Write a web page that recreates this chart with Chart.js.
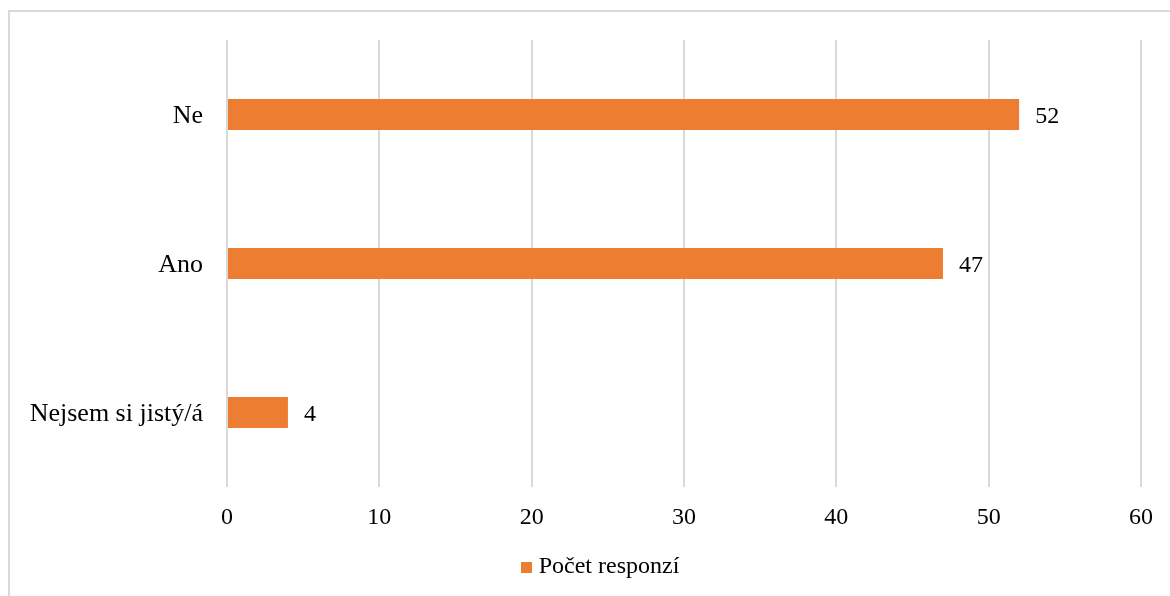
<!DOCTYPE html>
<html lang="cs">
<head>
<meta charset="utf-8">
<title>Počet responzí</title>
<script src="https://cdn.jsdelivr.net/npm/chart.js@4.4.1/dist/chart.umd.min.js"></script>
<style>
  html, body { margin: 0; padding: 0; background: #ffffff; overflow: hidden; }
  #frame {
    position: absolute; left: 8px; top: 10px; width: 1300px; height: 700px;
    border: 2px solid #d9d9d9; box-sizing: border-box;
  }
  #wrap { position: absolute; left: 0; top: 0; width: 1170px; height: 596px; }
</style>
</head>
<body>
<div id="frame"></div>
<div id="wrap"><canvas id="chart" width="1170" height="596"></canvas></div>
<script>
// Odpovědi a počty
const categories = ['Ne', 'Ano', 'Nejsem si jistý/á'];
const responses = [52, 47, 4];
const seriesName = 'Počet responzí';
const axisMin = 0;
const axisMax = 60;
const axisStep = 10;

const FONT = "'Liberation Serif', 'Times New Roman', serif";
const ORANGE = '#ED7D31';
const GRID = '#d9d9d9';

// Malý čtvereček pro legendu
const legendSwatch = document.createElement('canvas');
legendSwatch.width = 11;
legendSwatch.height = 11;
(function () {
  const c = legendSwatch.getContext('2d');
  c.fillStyle = ORANGE;
  c.fillRect(0, 0, 11, 11);
})();

// Hodnoty vypsané vpravo od sloupců
const valueLabels = {
  id: 'valueLabels',
  afterDatasetsDraw(chart) {
    const ctx = chart.ctx;
    const meta = chart.getDatasetMeta(0);
    const data = chart.data.datasets[0].data;
    ctx.save();
    ctx.font = '24px ' + FONT;
    ctx.fillStyle = '#000';
    ctx.textAlign = 'left';
    ctx.textBaseline = 'middle';
    meta.data.forEach((bar, i) => {
      ctx.fillText(String(data[i]), bar.x + 16, bar.y + 2);
    });
    ctx.restore();
  }
};

// Legenda vystředěná pod celým grafem, ne jen pod osou
const legendShift = {
  id: 'legendShift',
  afterLayout(chart) {
    const lg = chart.legend;
    if (lg) {
      lg.left = 64;
      lg.width = lg.right - lg.left;
    }
  }
};

new Chart(document.getElementById('chart'), {
  type: 'bar',
  data: {
    labels: categories,
    datasets: [{
      label: seriesName,
      data: responses,
      backgroundColor: ORANGE,
      borderWidth: 0,
      categoryPercentage: 1,
      barPercentage: 0.208
    }]
  },
  options: {
    indexAxis: 'y',
    responsive: false,
    animation: false,
    devicePixelRatio: 1,
    layout: { padding: { top: 40, right: 29, left: 0, bottom: 7 } },
    scales: {
      x: {
        min: axisMin,
        max: axisMax,
        ticks: {
          stepSize: axisStep,
          color: '#000',
          padding: 16,
          font: { family: FONT, size: 24 }
        },
        grid: { color: GRID, lineWidth: 2, drawTicks: false },
        border: { display: false },
        afterFit(scale) { scale.height = 58; }
      },
      y: {
        ticks: {
          color: '#000',
          padding: 24,
          labelOffset: 2,
          font: { family: FONT, size: 26 }
        },
        grid: { display: false, drawTicks: false },
        border: { display: false },
        afterFit(scale) { scale.width = 227; }
      }
    },
    plugins: {
      legend: {
        position: 'bottom',
        labels: {
          usePointStyle: true,
          pointStyle: legendSwatch,
          pointStyleWidth: 1,
          boxWidth: 1,
          boxHeight: 11,
          padding: 10,
          color: '#000',
          font: { family: FONT, size: 24 }
        }
      },
      tooltip: { enabled: false }
    }
  },
  plugins: [valueLabels, legendShift]
});
</script>
</body>
</html>
